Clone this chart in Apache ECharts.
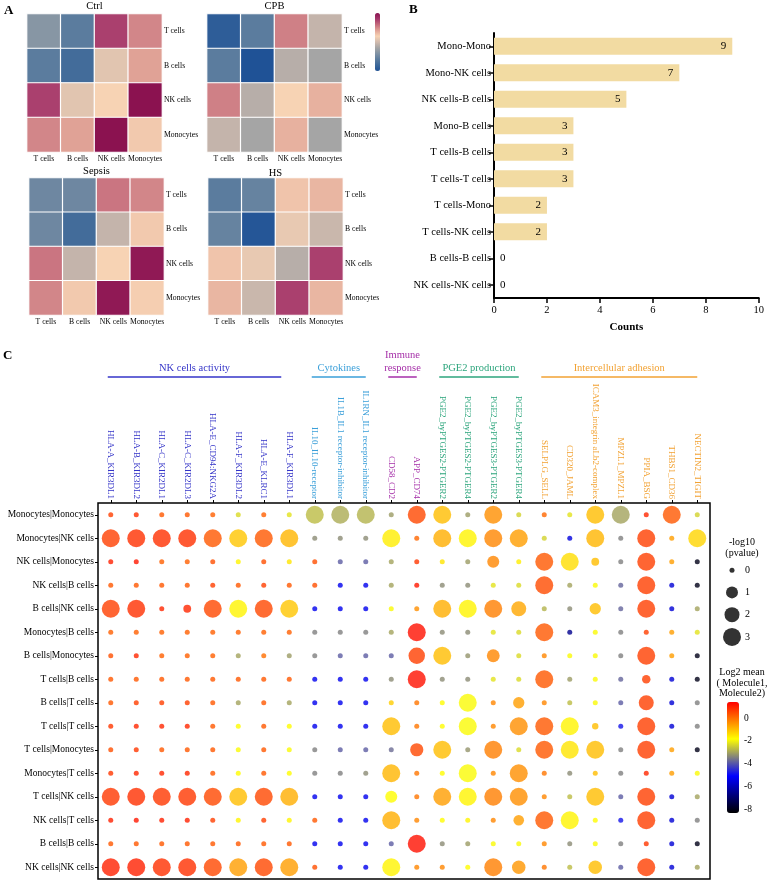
<!DOCTYPE html>
<html>
<head>
<meta charset="utf-8">
<title>Cell interaction figure</title>
<script src="https://cdn.jsdelivr.net/npm/echarts@6/dist/echarts.min.js"></script>
<style>
    html, body { margin: 0; padding: 0; background: #fff; }
    #main { width: 767px; height: 884px; }
</style>
</head>
<body>
<div id="main"></div>
<script>
var FONT = '"Liberation Serif", "Times New Roman", serif';

// ---- A: 热图 (0-1 标准化的相互作用强度)
var cellTypes = ['T cells', 'B cells', 'NK cells', 'Monocytes'];
var heatTitles = ['Ctrl', 'CPB', 'Sepsis', 'HS'];
var ctrlVals = [
    [0.32, 0.20, 0.88, 0.75],
    [0.20, 0.12, 0.54, 0.70],
    [0.88, 0.54, 0.60, 1.00],
    [0.75, 0.70, 1.00, 0.62]
];
var cpbVals = [
    [0.05, 0.20, 0.76, 0.47],
    [0.20, 0.00, 0.44, 0.40],
    [0.76, 0.44, 0.60, 0.67],
    [0.47, 0.40, 0.67, 0.40]
];
var sepsisVals = [
    [0.25, 0.25, 0.78, 0.75],
    [0.25, 0.12, 0.47, 0.62],
    [0.78, 0.47, 0.60, 0.98],
    [0.75, 0.62, 0.98, 0.61]
];
var hsVals = [
    [0.20, 0.23, 0.63, 0.66],
    [0.23, 0.02, 0.56, 0.48],
    [0.63, 0.56, 0.44, 0.88],
    [0.66, 0.48, 0.88, 0.66]
];

// ---- B: 计数
var pairNames = ['Mono-Mono', 'Mono-NK cells', 'NK cells-B cells', 'Mono-B cells', 'T cells-B cells',
    'T cells-T cells', 'T cells-Mono', 'T cells-NK cells', 'B cells-B cells', 'NK cells-NK cells'];
var pairCounts = [9, 7, 5, 3, 3, 3, 2, 2, 0, 0];

// ---- C: 气泡图
var pairRows = ['Monocytes|Monocytes', 'Monocytes|NK cells', 'NK cells|Monocytes', 'NK cells|B cells',
    'B cells|NK cells', 'Monocytes|B cells', 'B cells|Monocytes', 'T cells|B cells', 'B cells|T cells',
    'T cells|T cells', 'T cells|Monocytes', 'Monocytes|T cells', 'T cells|NK cells', 'NK cells|T cells',
    'B cells|B cells', 'NK cells|NK cells'];
var lrPairs = ['HLA-A_KIR3DL1', 'HLA-B_KIR3DL2', 'HLA-C_KIR2DL1', 'HLA-C_KIR2DL3', 'HLA-E_CD94:NKG2A',
    'HLA-F_KIR3DL2', 'HLA-E_KLRC1', 'HLA-F_KIR3DL1', 'IL10_IL10-receptor', 'IL1B_IL1 receptor-inhibitor',
    'IL1RN_IL1 receptor-inhibitor', 'CD58_CD2', 'APP_CD74', 'PGE2_byPTGES2-PTGER2', 'PGE2_byPTGES2-PTGER4',
    'PGE2_byPTGES3-PTGER2', 'PGE2_byPTGES3-PTGER4', 'SELPLG_SELL', 'CD320_JAML',
    'ICAM3_integrin aLb2-complex', 'MPZL1_MPZL1', 'PPIA_BSG', 'THBS1_CD36', 'NECTIN2_TIGIT'];
var lrGroup = [0, 0, 0, 0, 0, 0, 0, 0, 1, 1, 1, 2, 2, 3, 3, 3, 3, 4, 4, 4, 4, 4, 4, 4];
var groupTitles = ['NK cells activity', 'Cytokines', 'Immune\nresponse', 'PGE2 production', 'Intercellular adhesion'];
var groupColors = ['#3434c8', '#3a9fd9', '#a52fa8', '#2ca57c', '#f2a233'];

var log2Mean = [
    [0.6, 0.8, 0.3, 0.3, 0.2, -2.3, 0.2, -2.2, -2.7, -2.9, -2.8, -3.1, 0.5, -1.0, -3.1, -0.4, -2.4, 0.1, -2.2, -1.0, -3.0, 0.9, 0.3, -2.4],
    [0.6, 0.8, 0.8, 0.8, 0.3, -1.1, 0.3, -0.9, -3.3, -3.3, -3.3, -1.6, 0.1, -0.8, -1.7, -0.3, -0.6, -2.4, -5.5, -0.9, -3.45, 0.6, -0.6, -1.3],
    [1.0, 1.1, 0.2, 0.2, 0.4, -1.7, 0.4, -1.5, 0.4, -3.9, -3.9, -3.0, 0.7, -1.5, -3.1, -0.3, -1.6, 0.3, -1.4, -1.0, -3.45, 0.6, -0.6, -8.0],
    [0.3, 0.3, 0.3, 0.3, 0.6, 0.3, 0.6, 0.3, 0.4, -5.3, -5.3, -3.0, 1.1, -3.3, -3.3, -2.2, -2.3, 0.45, -3.0, -1.9, -3.8, 0.6, -5.6, -8.0],
    [0.6, 0.8, 0.9, 0.9, 0.5, -1.7, 0.5, -1.1, -5.3, -5.3, -5.3, -1.9, -0.4, -0.8, -1.7, -0.2, -0.7, -2.8, -3.3, -1.0, -3.8, 0.6, -5.6, -3.0],
    [0.2, 0.2, 0.2, 0.2, 0.2, 0.2, 0.2, 0.2, -3.45, -3.45, -3.45, -3.0, 1.2, -3.3, -3.3, -2.2, -2.3, 0.3, -6.5, -1.9, -3.45, 0.6, -0.6, -2.2],
    [0.4, 0.9, 0.2, 0.2, 0.2, -3.0, 0.0, -3.1, -3.45, -3.9, -3.9, -3.9, 0.6, -1.0, -3.2, -0.3, -2.3, -0.3, -1.9, -1.9, -3.45, 0.6, -0.6, -8.0],
    [0.3, 0.3, 0.3, 0.3, 0.3, 0.3, 0.3, 0.3, -5.3, -5.3, -5.3, -3.3, 1.2, -3.3, -3.3, -2.2, -2.3, 0.3, -3.1, -1.9, -3.8, 0.6, -5.6, -8.0],
    [0.3, 0.6, 0.6, 0.6, 0.3, -3.0, 0.3, -3.0, -5.3, -5.3, -5.3, -1.2, -0.1, -1.8, -1.9, -0.3, -0.6, -0.3, -2.7, -1.9, -3.9, 0.6, -5.6, -3.45],
    [0.7, 0.9, 0.9, 0.9, 0.3, -1.8, 0.3, -1.8, -5.3, -5.3, -5.3, -1.0, -0.1, -1.8, -1.9, -0.3, -0.4, 0.3, -1.7, -1.0, -4.8, 0.6, -5.6, -3.45],
    [0.4, 0.7, 0.3, 0.3, 0.3, -1.9, 0.3, -1.9, -3.45, -3.9, -3.9, -3.7, 0.5, -1.0, -3.2, -0.2, -2.3, 0.3, -1.5, -1.0, -3.45, 0.6, -0.6, -8.0],
    [0.7, 0.9, 0.9, 0.9, 0.3, -1.8, 0.3, -1.8, -3.45, -3.45, -3.3, -0.9, -0.1, -1.8, -1.9, -0.3, -0.4, -0.1, -3.3, -1.0, -3.45, 0.9, -0.6, -1.9],
    [0.7, 0.8, 0.7, 0.7, 0.5, -1.0, 0.5, -0.8, -5.3, -5.3, -5.3, -1.8, -0.1, -0.6, -1.7, -0.2, -0.4, -0.3, -2.7, -1.0, -3.9, 0.6, -5.6, -3.0],
    [1.0, 1.1, 1.0, 1.0, 0.6, -1.7, 0.6, -1.7, 0.3, -5.3, -5.3, -0.8, -0.3, -1.8, -1.7, -0.3, -0.6, 0.3, -1.7, -1.8, -4.8, 0.6, -5.6, -3.45],
    [0.3, 0.3, 0.3, 0.3, 0.3, 0.3, 0.3, 0.3, -5.3, -5.3, -5.3, -3.9, 1.2, -3.3, -3.1, -1.9, -1.9, -0.3, -3.3, -1.9, -3.45, 0.7, -5.6, -8.0],
    [1.0, 1.0, 0.8, 0.8, 0.5, -0.6, 0.5, -0.6, 0.4, -5.3, -5.3, -1.7, -0.3, -0.3, -1.8, -0.2, -0.5, -0.1, -2.7, -1.0, -3.9, 0.6, -5.6, -3.0]
];
var negLogP = [
    [0, 0, 0, 0, 0, 0, 0, 0, 3, 3, 3, 0, 3, 3, 0, 3, 0, 0, 0, 3, 3, 0, 3, 0],
    [3, 3, 3, 3, 3, 3, 3, 3, 0, 0, 0, 3, 0, 3, 3, 3, 3, 0, 0, 3, 0, 3, 0, 3],
    [0, 0, 0, 0, 0, 0, 0, 0, 0, 0, 0, 0, 0, 0, 0, 1, 0, 3, 3, 0.4, 0, 3, 0, 0],
    [0, 0, 0, 0, 0, 0, 0, 0, 0, 0, 0, 0, 0, 0, 0, 0, 0, 3, 0, 0, 0, 3, 0, 0],
    [3, 3, 0, 0.4, 3, 3, 3, 3, 0, 0, 0, 0, 0, 3, 3, 3, 2, 0, 0, 0.9, 0, 3, 0, 0],
    [0, 0, 0, 0, 0, 0, 0, 0, 0, 0, 0, 0, 3, 0, 0, 0, 0, 3, 0, 0, 0, 0, 0, 0],
    [0, 0, 0, 0, 0, 0, 0, 0, 0, 0, 0, 0, 2.5, 3, 0, 1.3, 0, 0, 0, 0, 0, 3, 0, 0],
    [0, 0, 0, 0, 0, 0, 0, 0, 0, 0, 0, 0, 3, 0, 0, 0, 0, 3, 0, 0, 0, 0.5, 0, 0],
    [0, 0, 0, 0, 0, 0, 0, 0, 0, 0, 0, 0, 0, 0, 3, 0, 0.9, 0, 0, 0, 0, 2, 0, 0],
    [0, 0, 0, 0, 0, 0, 0, 0, 0, 0, 0, 3, 0, 0, 3, 0, 3, 3, 3, 0.2, 0, 3, 0, 0],
    [0, 0, 0, 0, 0, 0, 0, 0, 0, 0, 0, 0, 1.4, 3, 0, 3, 0, 3, 3, 3, 0, 3, 0, 0],
    [0, 0, 0, 0, 0, 0, 0, 0, 0, 0, 0, 3, 0, 0, 3, 0, 3, 0, 0, 0, 0, 0, 0, 0],
    [3, 3, 3, 3, 3, 3, 3, 3, 0, 0, 0, 1, 0, 3, 3, 3, 3, 0, 0, 3, 0, 3, 0, 0],
    [0, 0, 0, 0, 0, 0, 0, 0, 0, 0, 0, 3, 0, 0, 0, 0, 0.8, 3, 3, 0, 0, 3, 0, 0],
    [0, 0, 0, 0, 0, 0, 0, 0, 0, 0, 0, 0, 3, 0, 0, 0, 0, 0, 0, 0, 0, 0, 0, 0],
    [3, 3, 3, 3, 3, 3, 3, 3, 0, 0, 0, 3, 0, 0, 0, 3, 1.5, 0, 0, 1.5, 0, 3, 0, 0]
];
var pLegend = [0, 1, 2, 3];
var meanTicks = [-8, -6, -4, -2, 0];
var meanMin = -8.3, meanMax = 1.4;

/**
 * -log10(p) -> 点直径
 */
function dotSize(p) {
    return p <= 1 ? 5 + 7 * p : 12 + 3 * (p - 1);
}

function heatData(vals) {
    var out = [];
    for (var r = 0; r < vals.length; r++) {
        for (var c = 0; c < vals[r].length; c++) {
            out.push([c, r, vals[r][c]]);
        }
    }
    return out;
}

var myChart = echarts.init(document.getElementById('main'));

var heatBoxes = [
    {left: 27, top: 14, width: 135, height: 138},
    {left: 207, top: 14, width: 135, height: 138},
    {left: 29, top: 178, width: 135, height: 137},
    {left: 208, top: 178, width: 135, height: 137}
];
var heatSets = [ctrlVals, cpbVals, sepsisVals, hsVals];

var grids = [], xAxes = [], yAxes = [], series = [];

for (var h = 0; h < 4; h++) {
    grids.push(heatBoxes[h]);
    xAxes.push({
        type: 'category', gridIndex: h, data: cellTypes, position: 'bottom',
        axisLine: {show: false}, axisTick: {show: false},
        axisLabel: {fontSize: 7.7, margin: 3, interval: 0, color: '#000'}
    });
    yAxes.push({
        type: 'category', gridIndex: h, data: cellTypes, inverse: true, position: 'right',
        axisLine: {show: false}, axisTick: {show: false},
        axisLabel: {fontSize: 7.7, margin: 2, color: '#000'}
    });
    series.push({
        type: 'heatmap', xAxisIndex: h, yAxisIndex: h,
        data: heatData(heatSets[h]),
        itemStyle: {borderColor: '#fff', borderWidth: 1.2},
        emphasis: {disabled: true}
    });
}

// B
grids.push({left: 494, top: 33, width: 265, height: 265});
xAxes.push({
    type: 'value', gridIndex: 4, min: 0, max: 10, interval: 2,
    name: 'Counts', nameLocation: 'middle', nameGap: 24,
    nameTextStyle: {fontSize: 11, fontWeight: 'bold', color: '#000'},
    splitLine: {show: false},
    axisLine: {show: true, lineStyle: {color: '#000', width: 2}},
    axisTick: {show: true, length: 5, lineStyle: {color: '#000', width: 1.5}},
    axisLabel: {fontSize: 10.5, margin: 7, color: '#000'}
});
yAxes.push({
    type: 'category', gridIndex: 4, data: pairNames, inverse: true,
    axisLine: {show: true, lineStyle: {color: '#000', width: 2}},
    axisTick: {show: true, length: 5, alignWithLabel: true, lineStyle: {color: '#000', width: 1.5}},
    axisLabel: {fontSize: 10.5, margin: 3, color: '#000'}
});
series.push({
    type: 'bar', xAxisIndex: 4, yAxisIndex: 4, barWidth: 17,
    itemStyle: {color: '#f2dba2'},
    data: pairCounts.map(function (v) {
        return {
            value: v,
            label: {
                show: true, position: v === 0 ? 'right' : 'insideRight',
                distance: 6, fontSize: 11, color: '#000'
            }
        };
    })
});

// C
grids.push({left: 98, top: 503, width: 612, height: 376, show: true, borderColor: '#000', borderWidth: 1.5});
xAxes.push({
    type: 'category', gridIndex: 5, data: lrPairs, position: 'top',
    axisLine: {show: false},
    axisTick: {show: true, length: 3, alignWithLabel: true, lineStyle: {color: '#000'}},
    axisLabel: {
        rotate: 90, fontSize: 9, margin: 4, interval: 0,
        color: function (value, index) {
            var i = typeof value === 'number' ? value : lrPairs.indexOf(value);
            if (i < 0) i = index;
            return groupColors[lrGroup[i]];
        }
    }
});
yAxes.push({
    type: 'category', gridIndex: 5, data: pairRows, inverse: true,
    axisLine: {show: false},
    axisTick: {show: true, length: 3, alignWithLabel: true, lineStyle: {color: '#000'}},
    axisLabel: {fontSize: 9.5, margin: 4, color: '#000'}
});
var dotData = [];
for (var r = 0; r < pairRows.length; r++) {
    for (var c = 0; c < lrPairs.length; c++) {
        dotData.push([c, r, log2Mean[r][c], negLogP[r][c]]);
    }
}
series.push({
    type: 'scatter', xAxisIndex: 5, yAxisIndex: 5,
    data: dotData,
    encode: {x: 0, y: 1},
    symbolSize: function (val) { return dotSize(val[3]); },
    emphasis: {disabled: true}
});

// -log10(pvalue) 图例
grids.push({left: 722, top: 559, width: 20, height: 89});
xAxes.push({type: 'category', gridIndex: 6, data: ['p'], show: false});
yAxes.push({
    type: 'category', gridIndex: 6, data: pLegend.map(String), inverse: true, position: 'right',
    axisLine: {show: false}, axisTick: {show: false},
    axisLabel: {fontSize: 10, margin: 3, color: '#000'}
});
series.push({
    type: 'scatter', xAxisIndex: 6, yAxisIndex: 6,
    data: pLegend.map(function (p, i) { return [0, i, p]; }),
    symbolSize: function (val) { return dotSize(val[2]); },
    itemStyle: {color: '#000'},
    emphasis: {disabled: true}
});

// 色条刻度
grids.push({left: 727, top: 702, width: 12, height: 111});
xAxes.push({type: 'value', gridIndex: 7, show: false, min: 0, max: 1});
yAxes.push({
    type: 'value', gridIndex: 7, position: 'right', min: meanMin, max: meanMax,
    splitLine: {show: false}, axisLine: {show: false},
    axisTick: {show: true, length: 3, customValues: meanTicks, lineStyle: {color: '#000'}},
    axisLabel: {fontSize: 9.5, margin: 5, color: '#000', customValues: meanTicks}
});

myChart.setOption({
    animation: false,
    textStyle: {fontFamily: FONT},
    grid: grids,
    xAxis: xAxes,
    yAxis: yAxes,
    visualMap: [
        {
            type: 'continuous', seriesIndex: [0, 1, 2, 3], dimension: 2,
            min: 0, max: 1, calculable: false, hoverLink: false,
            left: 375, top: 13, itemWidth: 5, itemHeight: 58, padding: 0, text: null,
            inRange: {color: ['#1f5296', '#3d6899', '#5b7c9e', '#8092a4', '#a5a5a5', '#d2bbae',
                '#f7d3b4', '#e0a296', '#c46a7c', '#a3366a', '#8b1250']}
        },
        {
            type: 'continuous', seriesIndex: 5, dimension: 2,
            min: meanMin, max: meanMax, calculable: false, hoverLink: false,
            left: 727, top: 702, itemWidth: 12, itemHeight: 111, padding: 0, text: null,
            inRange: {color: ['#000000', '#0000ff', '#ffff00', '#ff0000']}
        }
    ],
    series: series
});

// 标题和分组标注
var gfx = [
    {type: 'text', left: 4, top: 4, style: {text: 'A', font: 'bold 13px ' + FONT, fill: '#000'}},
    {type: 'text', left: 409, top: 3, style: {text: 'B', font: 'bold 13px ' + FONT, fill: '#000'}},
    {type: 'text', left: 3, top: 349, style: {text: 'C', font: 'bold 13px ' + FONT, fill: '#000'}},
    {type: 'text', x: 742, y: 548, style: {text: '-log10\n(pvalue)', font: '10px ' + FONT, fill: '#000',
        align: 'center', verticalAlign: 'middle', lineHeight: 11}},
    {type: 'text', x: 742, y: 683, style: {text: 'Log2 mean\n( Molecule1,\nMolecule2)', font: '10px ' + FONT,
        fill: '#000', align: 'center', verticalAlign: 'middle', lineHeight: 10.5}}
];
var titleY = [6, 6, 171, 173];
for (var t = 0; t < 4; t++) {
    gfx.push({type: 'text', x: heatBoxes[t].left + heatBoxes[t].width / 2, y: titleY[t],
        style: {text: heatTitles[t], font: '10.5px ' + FONT, fill: '#000', align: 'center', verticalAlign: 'middle'}});
}
for (var g = 0; g < groupTitles.length; g++) {
    var first = lrGroup.indexOf(g), last = lrGroup.lastIndexOf(g);
    var x1 = myChart.convertToPixel({xAxisIndex: 5}, lrPairs[first]) - 3;
    var x2 = myChart.convertToPixel({xAxisIndex: 5}, lrPairs[last]);
    if (g === 0) x2 -= 8;
    gfx.push({type: 'line', shape: {x1: x1, y1: 377, x2: x2, y2: 377},
        style: {stroke: groupColors[g], lineWidth: 1.5}});
    gfx.push({type: 'text', x: (x1 + x2) / 2, y: 375,
        style: {text: groupTitles[g], font: '10.5px ' + FONT, fill: groupColors[g],
            align: 'center', verticalAlign: 'bottom', lineHeight: 13}});
}
myChart.setOption({graphic: gfx});
</script>
</body>
</html>
